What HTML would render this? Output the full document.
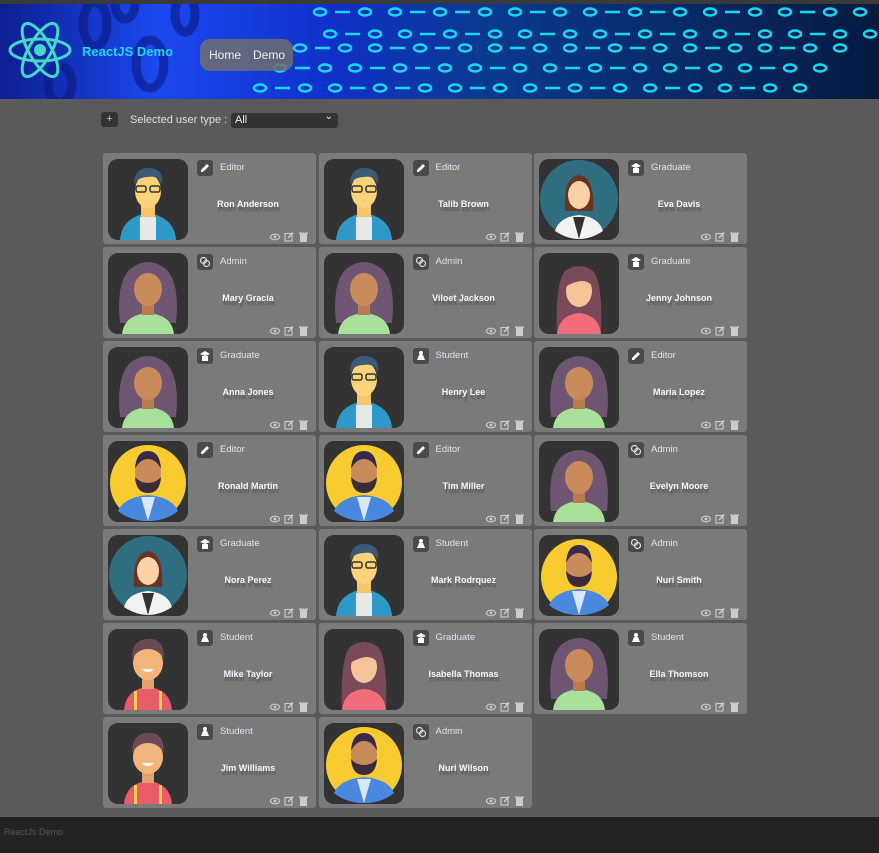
<!DOCTYPE html>
<html><head><meta charset="utf-8"><style>
*{box-sizing:border-box;margin:0;padding:0}
body{width:879px;height:853px;background:#5a5a5a;font-family:"Liberation Sans","DejaVu Sans",sans-serif;position:relative;overflow:hidden}
#topbar{position:absolute;left:0;top:0;width:879px;height:4px;background:#3a3a3a}
#banner{position:absolute;left:0;top:4px;width:879px;height:95px;overflow:hidden;background:linear-gradient(90deg,#0c1f90 0%,#1a48f0 18%,#1030c8 38%,#0a3a90 55%,#061a40 100%)}
.brand{position:absolute;left:82px;top:40px;color:#22d8e8;font-weight:bold;font-size:13px}
.nav{position:absolute;left:200px;top:35px;width:93px;height:32px;border-radius:10px;background:rgba(110,110,110,.85);color:#eee;font-size:12px;line-height:32px}
.nav span{position:absolute}
.plus{position:absolute;left:101px;top:112px;width:17px;height:15px;background:#333;border-radius:3px;color:#f0c060;font-size:11px;text-align:center;line-height:15px}
.lbl{position:absolute;left:130px;top:114px;color:#ddd;font-size:11px}
.sel{position:absolute;left:231px;top:113px;width:107px;height:15px;background:#333;border-radius:3px;color:#eee;font-size:11px;padding-left:4px;line-height:15px}
.sel:after{content:"⌄";position:absolute;right:5px;top:-4px;font-size:10px}
.card{position:absolute;width:213px;height:91px;background:#7a7a7a;border-radius:3px}
.av{position:absolute;left:5px;top:6px;width:80px;height:81px;border-radius:10px;background:#333;overflow:hidden}
.ri{position:absolute;left:94px;top:7px;width:16px;height:16px;background:#4a4a4a;border-radius:3px}
.role{position:absolute;left:117px;top:9px;color:#dde4ee;font-size:9.5px}
.name{position:absolute;left:90px;width:110px;text-align:center;top:46px;color:#f4f6ff;font-weight:bold;font-size:9px;text-shadow:1px 4px 1px rgba(70,70,70,.55)}
.acts{position:absolute;left:167px;top:76px;width:42px;height:10px}
#footer{position:absolute;left:0;top:817px;width:879px;height:36px;background:#222;color:#555;font-size:9px;padding:10px 4px}
</style></head><body>
<div id="topbar"></div>
<div id="banner">
<svg width="879" height="95" style="position:absolute;left:0;top:0">
<g fill="none" stroke="#0a1a80" stroke-width="9" opacity=".6">
<ellipse cx="95" cy="20" rx="12" ry="22"/><ellipse cx="150" cy="60" rx="14" ry="24"/><ellipse cx="185" cy="10" rx="10" ry="18"/><ellipse cx="60" cy="80" rx="12" ry="18"/><ellipse cx="125" cy="0" rx="10" ry="15"/></g>
<g fill="none" stroke="#18d8f0" stroke-width="2.5">
<g id="rw"><ellipse cx="330" cy="30" rx="6" ry="3.5"/><line x1="345" y1="30" x2="360" y2="30"/><ellipse cx="375" cy="30" rx="6" ry="3.5"/><ellipse cx="405" cy="30" rx="6" ry="3.5"/><line x1="420" y1="30" x2="435" y2="30"/><ellipse cx="450" cy="30" rx="6" ry="3.5"/><line x1="465" y1="30" x2="480" y2="30"/><ellipse cx="495" cy="30" rx="6" ry="3.5"/><ellipse cx="525" cy="30" rx="6" ry="3.5"/><line x1="540" y1="30" x2="555" y2="30"/><ellipse cx="570" cy="30" rx="6" ry="3.5"/><ellipse cx="600" cy="30" rx="6" ry="3.5"/><line x1="615" y1="30" x2="630" y2="30"/><ellipse cx="645" cy="30" rx="6" ry="3.5"/><line x1="660" y1="30" x2="675" y2="30"/><ellipse cx="690" cy="30" rx="6" ry="3.5"/><ellipse cx="720" cy="30" rx="6" ry="3.5"/><line x1="735" y1="30" x2="750" y2="30"/><ellipse cx="765" cy="30" rx="6" ry="3.5"/><ellipse cx="795" cy="30" rx="6" ry="3.5"/><line x1="810" y1="30" x2="825" y2="30"/><ellipse cx="840" cy="30" rx="6" ry="3.5"/><ellipse cx="870" cy="30" rx="6" ry="3.5"/></g>
<use href="#rw" transform="translate(-10,-22)"/><use href="#rw" transform="translate(-30,14)"/><use href="#rw" transform="translate(-50,34)"/><use href="#rw" transform="translate(-70,54)"/></g>
<g fill="none" stroke="#45d8c8" stroke-width="3"><ellipse cx="40" cy="46" rx="30" ry="11"/><ellipse cx="40" cy="46" rx="30" ry="11" transform="rotate(60 40 46)"/><ellipse cx="40" cy="46" rx="30" ry="11" transform="rotate(-60 40 46)"/></g>
<circle cx="40" cy="46" r="6" fill="#45d8c8"/></svg>
<div class="brand">ReactJS Demo</div>
<div class="nav"><span style="left:9px">Home</span><span style="left:53px">Demo</span></div>
</div>
<div class="plus">+</div>
<div class="lbl">Selected user type :</div>
<div class="sel">All</div>
<div id="cards"></div>
<div id="footer">ReactJs Demo</div>
<script>
const names=["Ron Anderson","Talib Brown","Eva Davis","Mary Gracia","Viloet Jackson","Jenny Johnson","Anna Jones","Henry Lee","Maria Lopez","Ronald Martin","Tim Miller","Evelyn Moore","Nora Perez","Mark Rodrquez","Nuri Smith","Mike Taylor","Isabella Thomas","Ella Thomson","Jim Williams","Nuri Wilson"];
const roles=["Editor","Editor","Graduate","Admin","Admin","Graduate","Graduate","Student","Editor","Editor","Editor","Admin","Graduate","Student","Admin","Student","Graduate","Student","Student","Admin"];
const avatars=["A","A","C","B","B","D","B","A","B","E","E","B","C","A","E","F","D","B","F","E"];
const AV={
A:'<path d="M12 81 Q14 58 40 54 Q66 58 68 81Z" fill="#2f9ac8"/><rect x="32" y="58" width="16" height="23" fill="#e8e8e8"/><rect x="33" y="44" width="14" height="14" fill="#f5c76a"/><ellipse cx="40" cy="32" rx="13" ry="17" fill="#fdd37a"/><path d="M26 26 Q26 8 42 9 Q56 10 54 26 Q50 16 40 18 Q30 18 26 26Z" fill="#3a5a78"/><rect x="28" y="27" width="10" height="6" rx="2" fill="none" stroke="#333" stroke-width="1.5"/><rect x="42" y="27" width="10" height="6" rx="2" fill="none" stroke="#333" stroke-width="1.5"/>',
B:'<path d="M12 70 Q8 30 22 16 Q40 2 58 16 Q72 30 68 70Z" fill="#6e5672"/><path d="M14 81 Q16 62 40 60 Q64 62 66 81Z" fill="#a9e09a"/><rect x="34" y="48" width="12" height="14" fill="#b87a50"/><ellipse cx="40" cy="36" rx="14" ry="17" fill="#c98a5c"/><path d="M26 30 Q28 14 40 16 Q52 14 54 30 Q48 20 40 20 Q32 20 26 30Z" fill="#6e5672"/>',
C:'<circle cx="40" cy="40" r="39" fill="#2f6e80"/><path d="M16 72 Q20 58 40 56 Q60 58 64 72 Q52 80 40 80 Q28 80 16 72Z" fill="#f2f2f2"/><path d="M34 58 L40 80 L46 58Z" fill="#333"/><path d="M26 52 Q24 18 40 16 Q56 18 54 52Z" fill="#6a3422"/><ellipse cx="40" cy="36" rx="11" ry="14" fill="#fbd2a8"/>',
D:'<path d="M18 81 Q16 30 26 18 Q40 8 54 18 Q64 30 62 81Z" fill="#7a4a5a"/><path d="M18 81 Q20 62 40 60 Q60 62 62 81Z" fill="#f26d7c"/><ellipse cx="40" cy="38" rx="13" ry="16" fill="#f7c49a"/><path d="M26 34 Q28 16 42 18 Q54 20 54 34 Q46 22 26 34Z" fill="#7a4a5a"/>',
E:'<circle cx="40" cy="42" r="38" fill="#f8cc30"/><path d="M10 70 Q16 56 40 54 Q64 56 70 70 Q58 80 40 80 Q22 80 10 70Z" fill="#4a88e0"/><path d="M33 56 L40 80 L47 56Z" fill="#d8e8fa"/><ellipse cx="40" cy="32" rx="13" ry="16" fill="#c98a5c"/><path d="M27 36 Q28 52 40 52 Q52 52 53 36 Q48 42 40 42 Q32 42 27 36Z" fill="#3a2a3a"/><path d="M27 28 Q28 10 40 10 Q52 10 53 28 Q48 18 40 18 Q32 18 27 28Z" fill="#3a2a4a"/>',
F:'<path d="M16 81 Q18 60 40 58 Q62 60 64 81Z" fill="#e85c6a"/><rect x="26" y="62" width="3" height="19" fill="#f8d050"/><rect x="51" y="62" width="3" height="19" fill="#f8d050"/><rect x="34" y="48" width="12" height="12" fill="#e0a070"/><ellipse cx="40" cy="34" rx="15" ry="17" fill="#f2b67c"/><path d="M34 40 Q40 46 46 40Z" fill="#fff"/><path d="M24 30 Q24 10 40 10 Q56 8 56 30 Q50 20 40 20 Q30 20 24 30Z" fill="#6a4a54"/>'
};
const RI={Editor:'<path d="M4 12 L4 10 L10 4 L12 6 L6 12Z" fill="#fff"/>',Admin:'<circle cx="6.5" cy="6.5" r="3" fill="none" stroke="#ddd" stroke-width="1.2"/><circle cx="9.5" cy="9.5" r="3" fill="none" stroke="#ddd" stroke-width="1.2"/>',Graduate:'<path d="M3 6 L8 3 L13 6 L8 8Z" fill="#fff"/><path d="M5 8 L5 13 L11 13 L11 8Z" fill="#fff"/>',Student:'<circle cx="8" cy="5" r="2" fill="#fff"/><path d="M4 12 L6 7 L10 7 L12 12Z" fill="#fff"/>'};
const ACTS='<svg width="42" height="10"><ellipse cx="5" cy="5" rx="4.5" ry="2.8" fill="none" stroke="#ccc" stroke-width="1.2"/><circle cx="5" cy="5" r="1.4" fill="#ccc"/><rect x="15" y="1.5" width="7" height="7.5" fill="none" stroke="#ccc" stroke-width="1.1"/><path d="M18 6 L23 0.5" stroke="#ccc" stroke-width="1.5"/><rect x="30" y="2" width="7" height="8" fill="#ccc"/><rect x="29" y="0.5" width="9" height="1.4" fill="#ccc"/></svg>';
const cont=document.getElementById('cards');
names.forEach((n,i)=>{
 const col=i%3,row=Math.floor(i/3);
 const c=document.createElement('div');
 c.className='card';
 
 
 c.style.left=(103+col*215.5)+'px';c.style.top=(153+row*94)+'px';
 c.innerHTML='<div class="av"><svg width="80" height="81">'+AV[avatars[i]]+'</svg></div>'+
 '<div class="ri"><svg width="16" height="16">'+RI[roles[i]]+'</svg></div>'+
 '<div class="role">'+roles[i]+'</div>'+
 '<div class="name">'+n+'</div>'+
 '<div class="acts">'+ACTS+'</div>';
 cont.appendChild(c);
});
</script>
</body></html>
